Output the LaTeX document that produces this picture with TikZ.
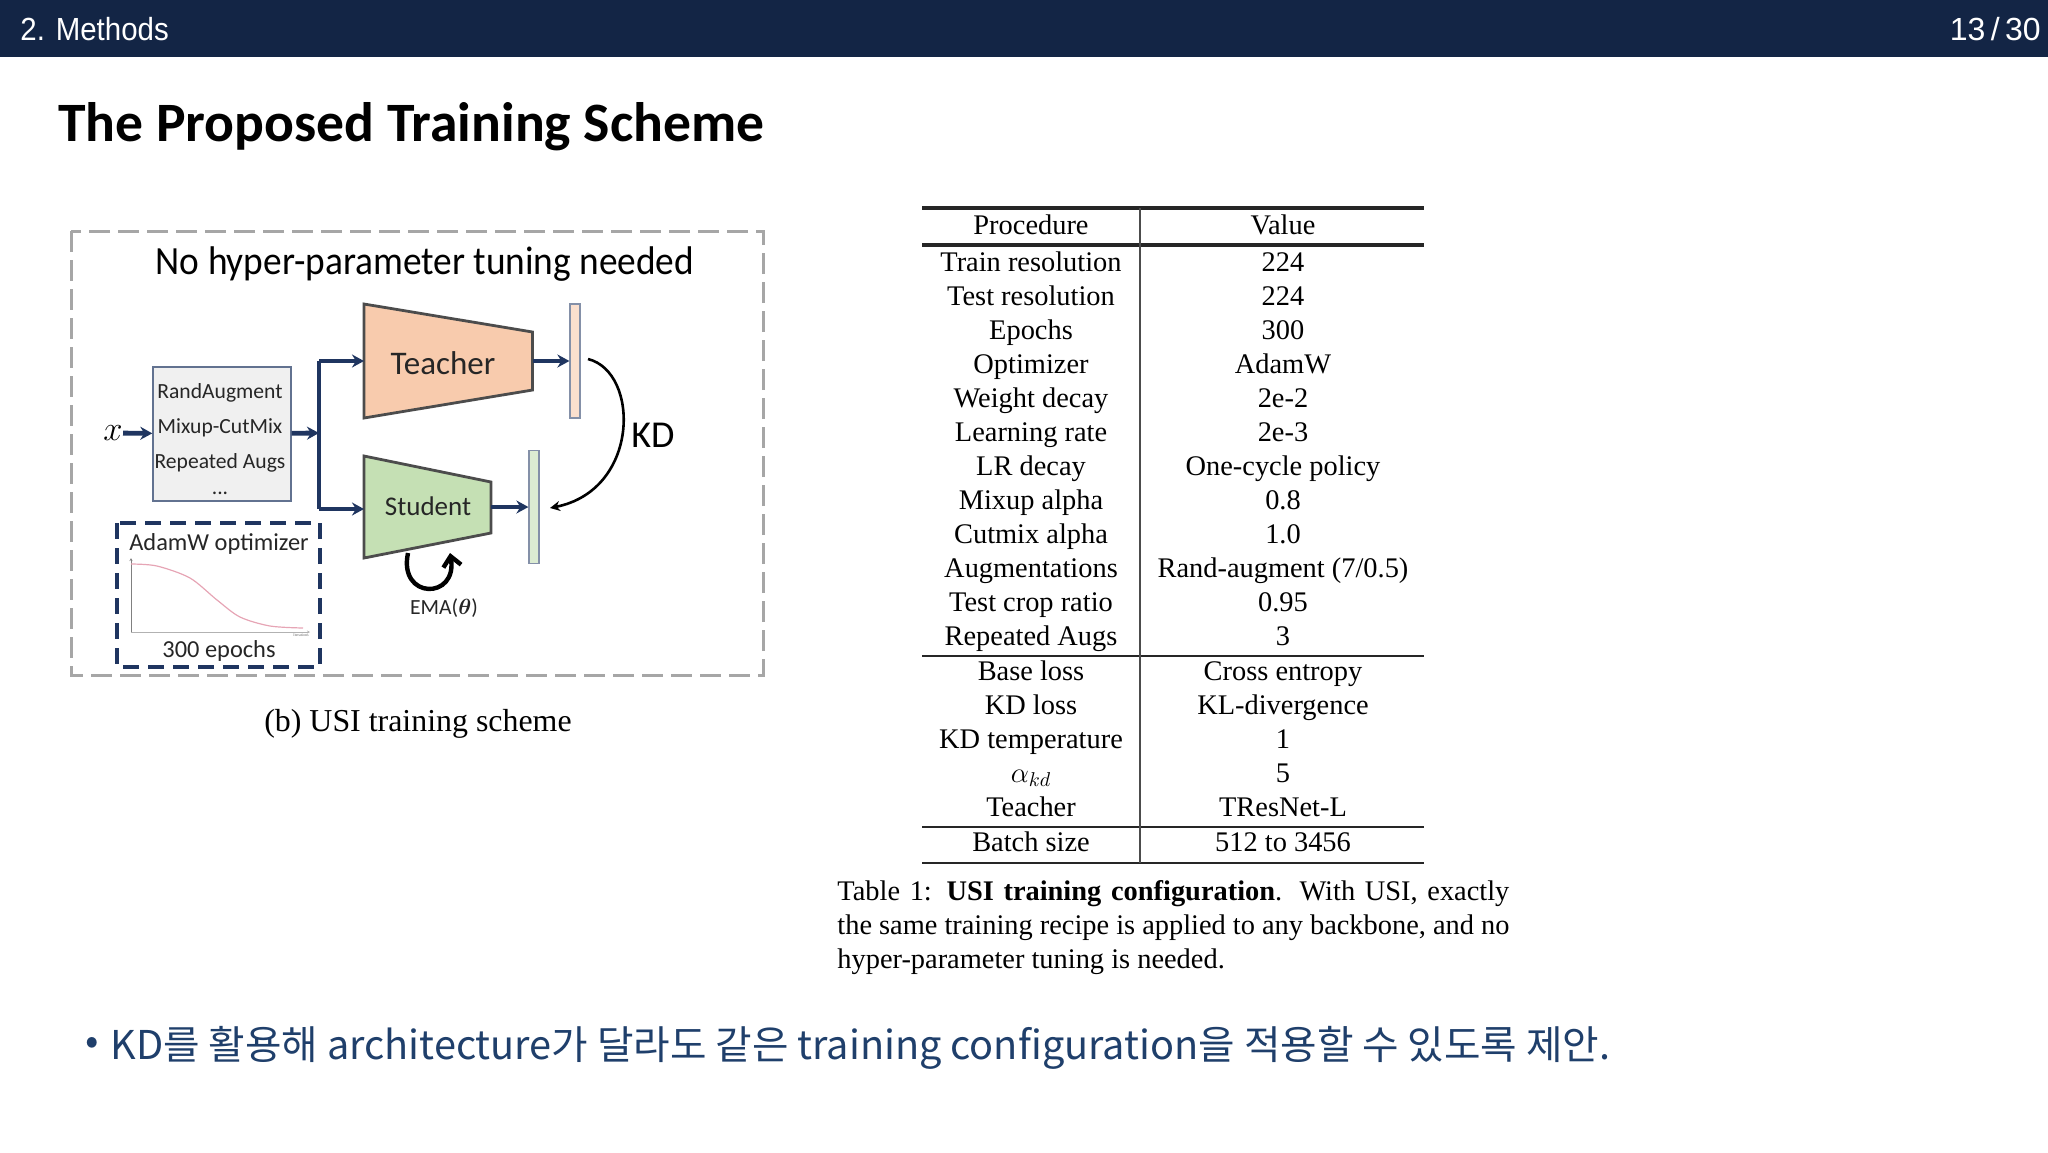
\documentclass[tikz,border=0pt]{standalone}
\usepackage{mathtools, amssymb, amsmath}
\usepackage{fontspec}
\setmainfont{Liberation Serif}
\newfontfamily\calfont{Carlito}
\newfontfamily\headfont{Liberation Sans}
\newfontfamily\krfont{Noto Sans CJK KR}
\usetikzlibrary{arrows.meta}
\definecolor{navy}{HTML}{132545}
\definecolor{flow}{HTML}{1F3560}
\definecolor{bullettext}{HTML}{1F3F6B}
\definecolor{teacherfill}{HTML}{F8CBAD}
\definecolor{studentfill}{HTML}{C5E0B4}
\definecolor{lrcurve}{HTML}{E6A5B5}
\tikzset{
    rowtext/.style={inner sep=0pt, anchor=base, font=\fontsize{14.2}{17}\selectfont},
    caltext/.style={inner sep=0pt, text=black!85, font=\calfont\fontsize{#1}{#1}\selectfont},
    flowline/.style={draw=flow, line width=2.4pt, -{Stealth[length=6pt,width=6.5pt]}},
    trapbox/.style={draw=black!70, line width=1.4pt},
    barbox/.style={draw=flow!55, line width=0.6pt, inner sep=0pt, minimum width=5pt},
    remarktext/.style={anchor=west, inner sep=0pt, text=bullettext, font=\krfont\fontsize{19.84}{24}\selectfont}
}
\begin{document}
\begin{tikzpicture}[x=0.5pt, y=-0.5pt]
    \useasboundingbox (0,0) rectangle (2048,1152);

    % Draw header and title
    \fill[navy] (0,0) rectangle (2048,57);
    \node[anchor=west, inner sep=0pt, text=white, font=\headfont\fontsize{16}{17}\selectfont] (section) at (20,29) {\scalebox{0.92}[1]{2. Methods}};
    \node[anchor=east, inner sep=0pt, text=white, font=\headfont\fontsize{16}{17}\selectfont] (pagenum) at (2041,29) {13\,/\,30};
    \node[anchor=west, inner sep=0pt, font=\calfont\bfseries\fontsize{27.8}{30}\selectfont] (title) at (58,127) {The Proposed Training Scheme};

    % Draw outer dashed frame
    \draw[black!35, line width=1.5pt, dash pattern=on 10.5pt off 4pt] (71,231) rectangle (763,675);
    \node[caltext=20, text=black] (tuning) at (425,264) {\scalebox{0.934}[1]{No hyper-parameter tuning needed}};

    % Draw networks
    \coordinate (teacherin) at (364,361);
    \coordinate (teacherout) at (532.5,361);
    \coordinate (studentin) at (364,509);
    \coordinate (studentout) at (491,507);
    \coordinate (split) at (319,433);
    \draw[trapbox, fill=teacherfill] (364,304) -- (532.5,332) -- (532.5,390) -- (364,418) -- cycle;
    \draw[trapbox, fill=studentfill] (364,456) -- (491,482) -- (491,533) -- (364,558) -- cycle;
    \node[caltext=16.5] (teacher) at (443,363) {Teacher};
    \node[caltext=13.5] (student) at (428,506) {Student};
    \node[barbox, fill=teacherfill!60!white, minimum height=57pt] (teacherbar) at (575,361) {};
    \node[barbox, fill=studentfill!60!white, minimum height=56.5pt] (studentbar) at (534,507) {};

    % Draw augmentation box
    \node[draw=flow!70, line width=0.7pt, fill=black!6, inner sep=0pt, minimum width=69pt, minimum height=67pt] (augbox) at (222,434) {};
    \foreach \y/\t in {393/RandAugment, 428/Mixup-CutMix, 463/Repeated Augs, 493/{...}} {
      \node[caltext=10.8] (aug\y) at (220,\y) {\t};
    }

    % Draw input and flow arrows
    \node[inner sep=0pt, font=\fontsize{19}{19}\selectfont] (input) at (113,433) {$x$};
    \draw[flowline] (input) -- (augbox);
    \draw[flowline] (augbox) -- (split);
    \draw[flow, line width=2pt] (319,361) -- (319,509);
    \draw[flowline] (319,361) -- (teacherin);
    \draw[flowline] (319,509) -- (studentin);
    \draw[flowline] (teacherout) -- (teacherbar);
    \draw[flowline] (studentout) -- (studentbar);

    % Draw KD link
    \coordinate (kdstart) at (588,359);
    \coordinate (kdend) at (550,508);
    \draw[black, line width=1.3pt, -{Stealth[length=5pt,width=5pt]}] (kdstart) .. controls (640,372) and (640,490) .. (kdend);
    \node[caltext=19, text=black] (kd) at (653,435) {KD};

    % Draw EMA loop
    \draw[black, line width=2.2pt, -{Straight Barb[length=5pt,width=9pt]}] (408,553) .. controls (398,600) and (458,600) .. (450,553);
    \node[caltext=10.8] (ema) at (444,608) {EMA($\boldsymbol{\theta}$)};

    % Draw optimizer box
    \draw[flow, line width=2pt, dash pattern=on 8pt off 4.5pt] (117,523) rectangle (320,667);
    \node[caltext=12.2] (adamw) at (219,544) {AdamW optimizer};
    \node[caltext=12.2] (epochs) at (219,651) {300 epochs};
    \draw[black!50, line width=0.4pt, -{Stealth[length=1.5pt,width=1.5pt]}] (131,632) -- (131,558);
    \draw[black!30, line width=0.4pt, -{Stealth[length=1.5pt,width=1.5pt]}] (131,632) -- (310,632);
    \draw[lrcurve, line width=0.6pt] plot[smooth] coordinates {(131,564) (157,566) (190,578) (217,600) (240,617) (270,626) (303,628)};
    \node[inner sep=0pt, text=black!60, font=\fontsize{2}{2}\selectfont] (iterations) at (301,635) {Iterations};

    \node[inner sep=0pt, font=\fontsize{15.95}{18}\selectfont] (figcaption) at (418,724) {(b) USI training scheme};

    % Draw table rules
    \foreach \y/\w in {208/1.8pt, 245/1.8pt, 656/0.7pt, 827/0.7pt, 863/0.7pt} {
      \draw[black!85, line width=\w] (922,\y) -- (1424,\y);
    }
    \draw[black!70, line width=0.7pt] (1140,208) -- (1140,863);

    % Table data
    \foreach \y/\p/\v in {225/Procedure/Value, 262/Train resolution/224, 296/Test resolution/224, 330/Epochs/300, 364/Optimizer/AdamW, 398/Weight decay/2e-2, 432/Learning rate/2e-3, 466/LR decay/One-cycle policy, 500/Mixup alpha/0.8, 534/Cutmix alpha/1.0, 568/Augmentations/{Rand-augment (7/0.5)}, 602/Test crop ratio/0.95, 636/Repeated Augs/3, 671/Base loss/Cross entropy, 705/KD loss/KL-divergence, 739/KD temperature/1, 773/$\alpha_{kd}$/5, 807/Teacher/TResNet-L, 842/Batch size/512 to 3456} {
      \node[rowtext] (proc\y) at (1031,\y+9) {\p};
      \node[rowtext] (val\y) at (1283,\y+9) {\v};
    }

    % Table caption
    \node[anchor=north west, inner sep=0pt, text width=336pt, align=justify, font=\fontsize{14.2}{17}\selectfont] (tabcaption) at (837,880) {Table 1: \textbf{USI training configuration}. With USI, exactly\linebreak the same training recipe is applied to any backbone, and no\linebreak hyper-parameter tuning is needed.};

    % Bottom remark
    \node[remarktext] (bullet) at (85,1046) {•};
    \node[remarktext] (remark) at (110,1048) {KD를 활용해 architecture가 달라도 같은 training configuration을 적용할 수 있도록 제안.};
\end{tikzpicture}
\end{document}
